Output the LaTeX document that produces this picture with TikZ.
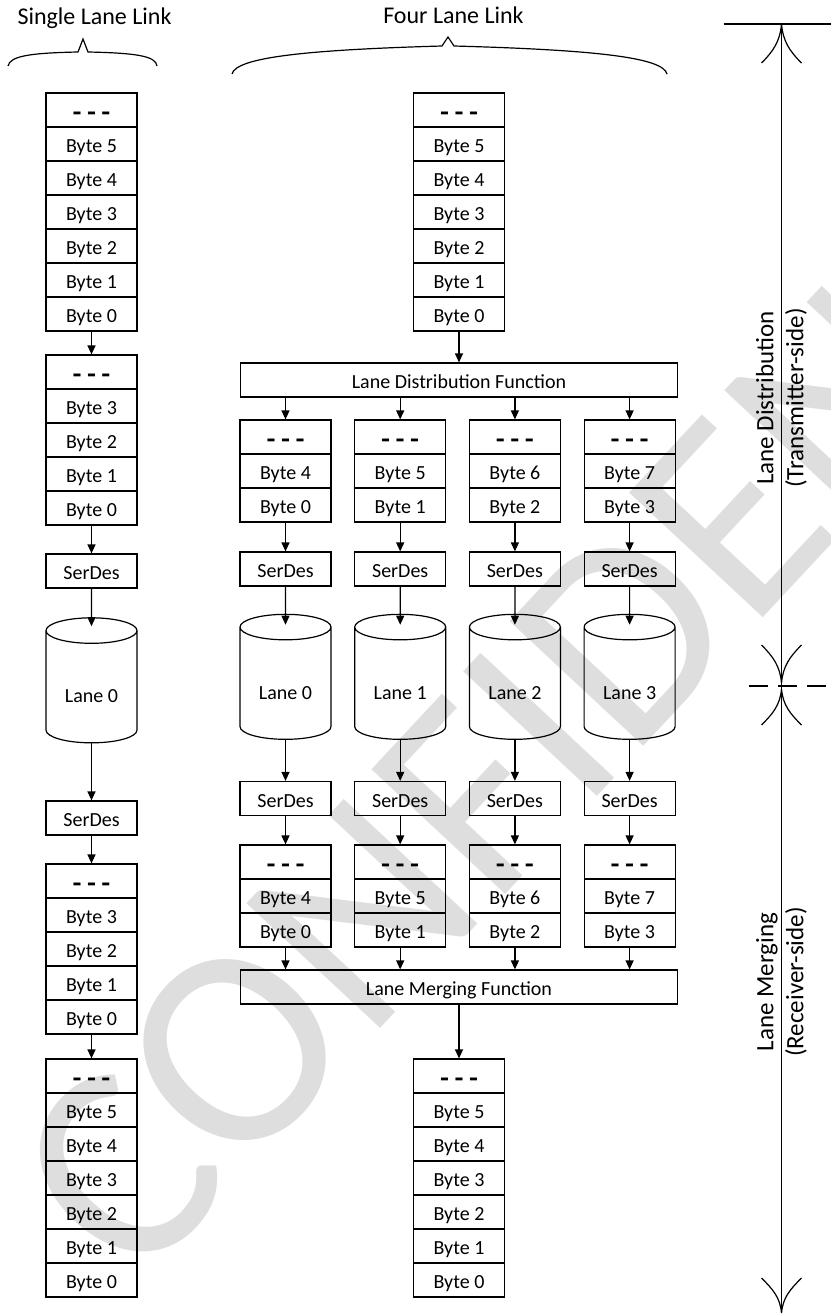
\documentclass[tikz,border=0pt]{standalone}
\usepackage{fontspec}
\setmainfont{Carlito}
\usepackage{tikz}
\usetikzlibrary{arrows.meta}
\usetikzlibrary{shapes.geometric}
\usetikzlibrary{positioning}

\tikzstyle{cell}=[
   rectangle,
   draw=black,
   line width=1.2pt,
   minimum width=91pt,
   minimum height=34pt,
   inner sep=0pt,
   text height=17pt,
   text depth=0pt,
   font=\fontsize{20}{24}\selectfont
]
\tikzstyle{func}=[cell, minimum width=437pt]
\tikzstyle{lane}=[cell, cylinder, shape border rotate=90, aspect=0.48, minimum height=125pt, text height=31pt]
\tikzstyle{side}=[rotate=90, align=center, font=\fontsize{25}{30}\selectfont]
\tikzstyle{heading}=[anchor=base, font=\fontsize{24}{28}\selectfont]

\newcommand{\gap}{\raisebox{-4pt}{\scalebox{1}[1.6]{\bfseries -- -- --}}}

\begin{document}
\begin{tikzpicture}[x=1pt,y=1pt,->,>={Triangle[length=9pt,width=8pt]},line width=1.2pt,node distance=34pt]

  \useasboundingbox (0,0) rectangle (830,-1314);

  % watermark
  \node[text=black!13, font=\fontsize{285}{285}\selectfont, rotate=47] (mark) at (655,-600) {CONFIDENTIAL};

  \node[heading] (single) at (94.5,-25) {Single Lane Link};
  \node[heading] (four)   at (453.5,-24) {Four Lane Link};
  \draw[-] (8,-66) .. controls (10,-56) and (30,-53) .. (78,-52) -- (83,-39) -- (88,-52) .. controls (136,-53) and (156,-56) .. (157,-66);
  \draw[-] (232,-74) .. controls (236,-58) and (300,-50) .. (442,-46) -- (448,-37) -- (454,-46) .. controls (600,-50) and (663,-58) .. (667,-74);

  % single lane link
  \node[cell] (s0) at (91.5,-110) {\gap};
  \node[cell] (s1) [below of=s0] {Byte 5};
  \node[cell] (s2) [below of=s1] {Byte 4};
  \node[cell] (s3) [below of=s2] {Byte 3};
  \node[cell] (s4) [below of=s3] {Byte 2};
  \node[cell] (s5) [below of=s4] {Byte 1};
  \node[cell] (s6) [below of=s5] {Byte 0};

  \node[cell] (t0) at (91.5,-372) {\gap};
  \node[cell] (t1) [below of=t0] {Byte 3};
  \node[cell] (t2) [below of=t1] {Byte 2};
  \node[cell] (t3) [below of=t2] {Byte 1};
  \node[cell] (t4) [below of=t3] {Byte 0};

  \node[cell] (sd1) at (91.5,-571) {SerDes};
  \node[lane] (ln)  at (91.5,-687) {Lane 0};
  \node[cell] (sd2) at (91.5,-818) {SerDes};

  \node[cell] (r0) at (91.5,-881) {\gap};
  \node[cell] (r1) [below of=r0] {Byte 3};
  \node[cell] (r2) [below of=r1] {Byte 2};
  \node[cell] (r3) [below of=r2] {Byte 1};
  \node[cell] (r4) [below of=r3] {Byte 0};

  \node[cell] (o0) at (91.5,-1076) {\gap};
  \node[cell] (o1) [below of=o0] {Byte 5};
  \node[cell] (o2) [below of=o1] {Byte 4};
  \node[cell] (o3) [below of=o2] {Byte 3};
  \node[cell] (o4) [below of=o3] {Byte 2};
  \node[cell] (o5) [below of=o4] {Byte 1};
  \node[cell] (o6) [below of=o5] {Byte 0};

  \path (s6) edge (t0)
        (t4) edge (sd1)
        (sd1) edge[shorten >=-9pt] (ln)
        (ln) edge (sd2)
        (sd2) edge (r0)
        (r4) edge (o0);

  % four lane link
  \node[cell] (a0) at (459,-110) {\gap};
  \node[cell] (a1) [below of=a0] {Byte 5};
  \node[cell] (a2) [below of=a1] {Byte 4};
  \node[cell] (a3) [below of=a2] {Byte 3};
  \node[cell] (a4) [below of=a3] {Byte 2};
  \node[cell] (a5) [below of=a4] {Byte 1};
  \node[cell] (a6) [below of=a5] {Byte 0};

  \node[func] (ldf) at (459,-380) {Lane Distribution Function};
  \node[func] (lmf) at (459,-987) {Lane Merging Function};

  \node[cell] (b0) at (459,-1076) {\gap};
  \node[cell] (b1) [below of=b0] {Byte 5};
  \node[cell] (b2) [below of=b1] {Byte 4};
  \node[cell] (b3) [below of=b2] {Byte 3};
  \node[cell] (b4) [below of=b3] {Byte 2};
  \node[cell] (b5) [below of=b4] {Byte 1};
  \node[cell] (b6) [below of=b5] {Byte 0};

  \path (a6) edge (ldf)
        (lmf) edge (b0);

  \foreach \i/\hi in {0/4,1/5,2/6,3/7} {
    \node[cell] (q\i0) at (285.5+114.7*\i,-437) {\gap};
    \node[cell] (q\i1) [below of=q\i0] {Byte \hi};
    \node[cell] (q\i2) [below of=q\i1] {Byte \i};
    \node[cell] (u\i)  at (285.5+114.7*\i,-569) {SerDes};
    \node[lane] (c\i)  at (285.5+114.7*\i,-683.5) {Lane \i};
    \node[cell] (v\i)  at (285.5+114.7*\i,-798.5) {SerDes};
    \node[cell] (w\i0) at (285.5+114.7*\i,-862) {\gap};
    \node[cell] (w\i1) [below of=w\i0] {Byte \hi};
    \node[cell] (w\i2) [below of=w\i1] {Byte \i};

    \path (ldf.south -| q\i0) edge (q\i0)
          (q\i2) edge (u\i)
          (u\i) edge[shorten >=-11pt] (c\i)
          (c\i) edge (v\i)
          (v\i) edge (w\i0)
          (w\i2) edge (w\i2.south |- lmf.north);
  }

  % transmitter / receiver axis
  \coordinate (top) at (781.5,-24);
  \coordinate (mid) at (781.5,-686);
  \coordinate (bot) at (781.5,-1313);
  \draw[-] (top) -- (bot);
  \draw[-] ([xshift=-58pt]top) -- ([xshift=49pt]top);
  \draw[-,dash pattern=on 19pt off 10pt] ([xshift=-32.5pt]mid) -- ([xshift=48.5pt]mid);
  \draw[-] (top) to[out=-95,in=45] ++(-20,-39) (top) to[out=-85,in=135] ++(20,-39);
  \draw[-] ([yshift=3pt]mid) to[out=95,in=-45] ++(-20,38) ([yshift=3pt]mid) to[out=85,in=-135] ++(20,38);
  \draw[-] ([yshift=-3pt]mid) to[out=-95,in=45] ++(-20,-36) ([yshift=-3pt]mid) to[out=-85,in=135] ++(20,-36);
  \draw[-] (bot) to[out=95,in=-45] ++(-20,35) (bot) to[out=85,in=-135] ++(20,35);

  \node[side] (dist) at (781.5,-398) {Lane Distribution\\(Transmitter-side)};
  \node[side] (merg) at (781.5,-982) {Lane Merging\\(Receiver-side)};

\end{tikzpicture}
\end{document}
